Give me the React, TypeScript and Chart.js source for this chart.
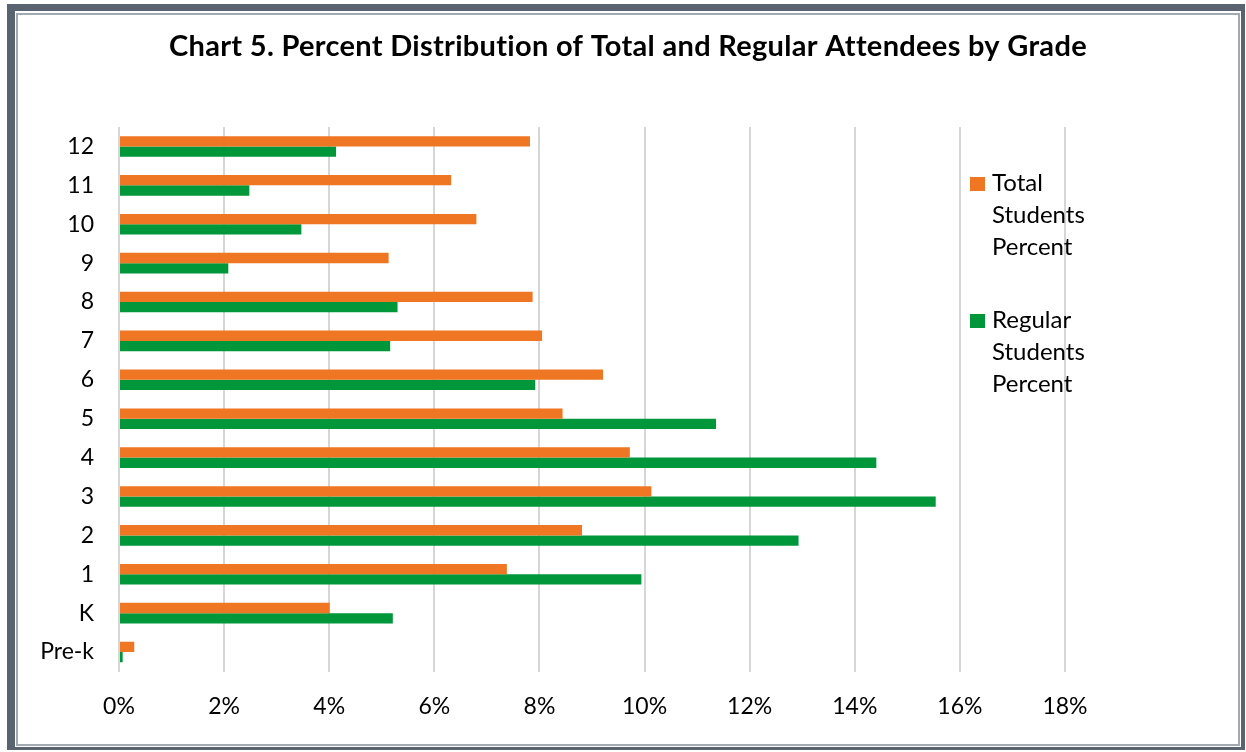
import { useEffect, useRef } from "react";
import { Chart, registerables } from "chart.js";

Chart.register(...registerables);

const grades = ["Pre-k", "K", "1", "2", "3", "4", "5", "6", "7", "8", "9", "10", "11", "12"];
const totalPercent = [0.29, 4.01, 7.38, 8.81, 10.13, 9.72, 8.44, 9.21, 8.05, 7.87, 5.13, 6.8, 6.32, 7.82];
const regularPercent = [0.07, 5.21, 9.94, 12.93, 15.54, 14.41, 11.36, 7.92, 5.16, 5.3, 2.08, 3.47, 2.48, 4.13];
const seriesLabels = ["Total Students Percent", "Regular Students Percent"];
const seriesColors = ["#EF7622", "#00963A"];
const xMin = 0;
const xMax = 18;
const xStep = 2;
const chartTitle = "Chart 5. Percent Distribution of Total and Regular Attendees by Grade";

const FONT = "Lato, 'Open Sans', sans-serif";

const titlePlugin = {
  id: "customTitle",
  afterDraw(chart: any) {
    const ctx = chart.ctx;
    ctx.save();
    ctx.font = `bold 29px ${FONT}`;
    try {
      ctx.letterSpacing = "0.3px";
    } catch (e) {}
    ctx.fillStyle = "#000";
    ctx.textAlign = "center";
    ctx.textBaseline = "middle";
    ctx.fillText(chartTitle, 628, 47);
    ctx.restore();
  },
};

const legendPlugin = {
  id: "customLegend",
  afterDraw(chart: any) {
    const ctx = chart.ctx;
    ctx.save();
    ctx.font = `24px ${FONT}`;
    ctx.fillStyle = "#000";
    ctx.textAlign = "left";
    ctx.textBaseline = "middle";
    chart.data.datasets.forEach((ds: any, i: number) => {
      const baseY = 183 + i * 137;
      ctx.fillStyle = ds.backgroundColor;
      ctx.fillRect(970, baseY - 6, 15, 14);
      ctx.fillStyle = "#000";
      const words = String(ds.label).split(" ");
      const lines: string[] = [];
      let cur = "";
      words.forEach((w) => {
        const test = cur ? cur + " " + w : w;
        if (cur && ctx.measureText(test).width > 110) {
          lines.push(cur);
          cur = w;
        } else cur = test;
      });
      if (cur) lines.push(cur);
      lines.forEach((ln, j) => ctx.fillText(ln, 992, baseY + j * 32));
    });
    ctx.restore();
  },
};

export default function App() {
  const ref = useRef<HTMLCanvasElement | null>(null);

  useEffect(() => {
    if (!ref.current) return;
    const chart = new Chart(ref.current, {
      type: "bar",
      data: {
        labels: grades,
        datasets: [
          {
            label: seriesLabels[0],
            data: totalPercent,
            backgroundColor: seriesColors[0],
            categoryPercentage: 0.53,
            barPercentage: 1,
          },
          {
            label: seriesLabels[1],
            data: regularPercent,
            backgroundColor: seriesColors[1],
            categoryPercentage: 0.53,
            barPercentage: 1,
          },
        ],
      },
      options: {
        indexAxis: "y",
        animation: false,
        responsive: false,
        devicePixelRatio: 1,
        layout: { padding: { left: 0, right: 181, top: 127, bottom: 0 } },
        plugins: {
          legend: { display: false },
          title: { display: false },
          tooltip: { enabled: false },
        },
        scales: {
          x: {
            type: "linear",
            min: xMin,
            max: xMax,
            ticks: {
              stepSize: xStep,
              padding: 21,
              color: "#000",
              font: { family: FONT, size: 23 },
              callback: (v: any) => `${v}%`,
            },
            grid: { color: "#d6d6d6", lineWidth: 2, drawTicks: false },
            border: { display: false },
            afterFit: (s: any) => {
              s.height = 80.5;
            },
          },
          y: {
            type: "category",
            reverse: true,
            ticks: {
              padding: 25,
              color: "#000",
              font: { family: FONT, size: 23 },
            },
            grid: { display: false, drawTicks: false },
            border: { display: false },
            afterFit: (s: any) => {
              s.width = 119;
            },
          },
        },
      },
      plugins: [titlePlugin, legendPlugin],
    } as any);
    return () => chart.destroy();
  }, []);

  return (
    <div style={{ position: "fixed", left: 0, top: 0, width: 1246, height: 752, background: "#fff", overflow: "hidden" }}>
      <div style={{ position: "absolute", left: 7, top: 4, width: 1238, height: 746, background: "#5a6470" }} />
      <div style={{ position: "absolute", left: 15, top: 11, width: 1226, height: 736, background: "#fff" }} />
      <div
        style={{
          position: "absolute",
          left: 16,
          top: 13,
          width: 1224,
          height: 733,
          border: "2px solid #a3a9b0",
          boxSizing: "border-box",
        }}
      />
      <canvas ref={ref} width={1246} height={752} style={{ position: "absolute", left: 0, top: 0, width: 1246, height: 752 }} />
    </div>
  );
}
